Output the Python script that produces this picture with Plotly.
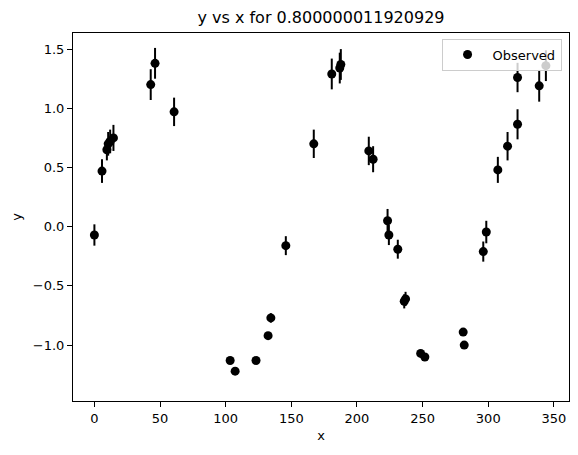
import plotly.graph_objects as go

title = 'y vs x for 0.800000011920929'

x_obs = [0.0, 5.8, 9.5, 10.5, 12.0, 14.5, 42.9, 46.2, 60.7,
         103.4, 107.2, 123.1, 132.3, 134.4, 145.8, 167.1, 180.8, 186.9, 187.7,
         209.0, 212.3, 223.3, 224.3, 231.1, 236.0, 237.0, 248.5, 251.7,
         280.9, 281.7, 296.2, 298.5, 307.3, 314.7, 322.3, 322.3, 338.8, 343.9]
y_obs = [-0.07, 0.47, 0.65, 0.70, 0.72, 0.75, 1.20, 1.38, 0.97,
         -1.13, -1.22, -1.13, -0.92, -0.77, -0.16, 0.70, 1.29, 1.34, 1.37,
         0.64, 0.57, 0.05, -0.07, -0.19, -0.63, -0.61, -1.07, -1.10,
         -0.89, -1.00, -0.21, -0.045, 0.48, 0.68, 0.865, 1.26, 1.19, 1.36]
y_err = [0.09, 0.10, 0.09, 0.10, 0.10, 0.11, 0.13, 0.13, 0.12,
         0.01, 0.01, 0.01, 0.03, 0.04, 0.08, 0.12, 0.13, 0.13, 0.13,
         0.12, 0.11, 0.10, 0.085, 0.08, 0.06, 0.06, 0.01, 0.01,
         0.02, 0.02, 0.085, 0.095, 0.11, 0.12, 0.127, 0.124, 0.134, 0.13]

font = 'DejaVu Sans'

fig = go.Figure()
fig.add_trace(go.Scatter(
    x=x_obs, y=y_obs, mode='markers', name='Observed',
    marker=dict(color='black', size=9),
    error_y=dict(type='data', array=y_err, color='black', thickness=2, width=0),
))

axis = dict(showgrid=False, zeroline=False, showline=True, linecolor='black',
            linewidth=1, mirror=True, ticks='outside', ticklen=5, tickcolor='black',
            tickfont=dict(size=13, color='black'))

fig.update_layout(
    width=578, height=455,
    margin=dict(l=73, r=9, t=33, b=54),
    paper_bgcolor='white', plot_bgcolor='white',
    font=dict(family=font, color='black', size=13),
    title=dict(text=title, xref='paper', x=0.5, xanchor='center',
               y=1 - 17 / 455, yanchor='middle',
               font=dict(size=16, color='black')),
    showlegend=True,
    legend=dict(x=0.985, y=0.985, xanchor='right', yanchor='top',
                bgcolor='rgba(255,255,255,0.8)', bordercolor='#cccccc', borderwidth=1,
                font=dict(size=13), itemwidth=40),
)
fig.update_xaxes(axis, range=[-16.3, 361.5], tickvals=[0, 50, 100, 150, 200, 250, 300, 350],
                 title=dict(text='x', standoff=6, font=dict(size=13)))
fig.update_yaxes(axis, range=[-1.472, 1.636], tickvals=[-1.0, -0.5, 0.0, 0.5, 1.0, 1.5],
                 ticktext=['\u22121.0', '\u22120.5', '0.0', '0.5', '1.0', '1.5'],
                 title=dict(text='y', standoff=8, font=dict(size=13)))

# the page's default body margin would shift the figure
fig.write_html('out.html', config={'displayModeBar': False},
               post_script="document.body.style.margin='0';")
